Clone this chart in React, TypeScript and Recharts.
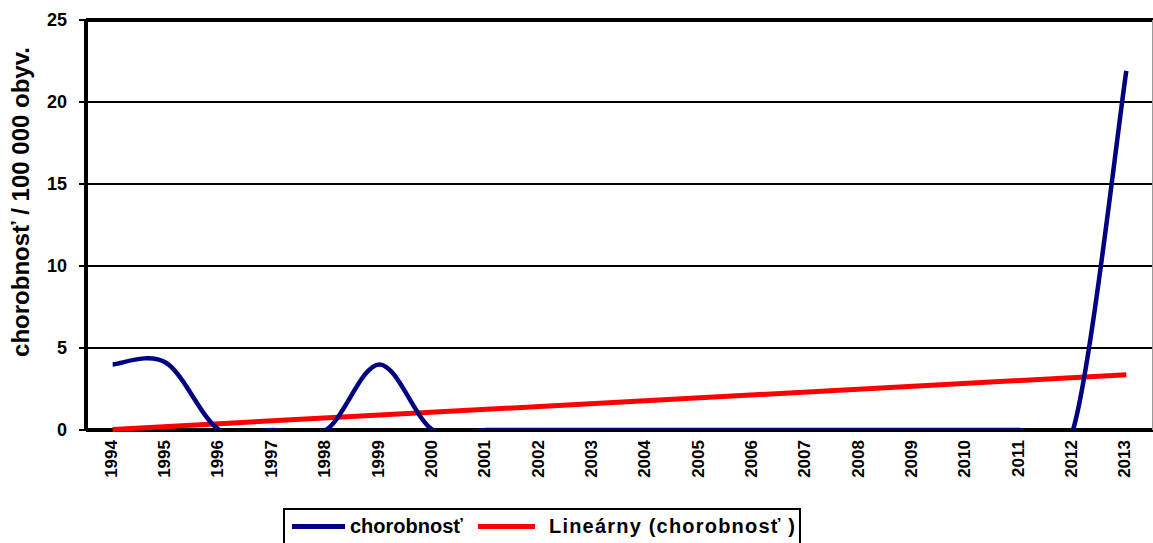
import React from "react";
import { CartesianGrid, Line, LineChart, ReferenceLine, XAxis, YAxis } from "recharts";

const years = [
  1994, 1995, 1996, 1997, 1998, 1999, 2000, 2001, 2002, 2003, 2004, 2005, 2006, 2007, 2008, 2009,
  2010, 2011, 2012, 2013,
];
const incidence = [4.0, 4.1, 0, 0, 0, 4.0, 0, 0, 0, 0, 0, 0, 0, 0, 0, 0, 0, 0, 0, 21.9];
const yTicks = [0, 5, 10, 15, 20, 25];
// linear trend (start / end value)
const trendStart = 0.03;
const trendEnd = 3.37;

const seriesName = "chorobnosť";
const trendName = "Lineárny (chorobnosť )";
const yTitle = "chorobnosť / 100 000 obyv.";

const data = years.map((year, i) => ({ year, value: incidence[i] }));
const bounds = [years[0] - 0.5, ...years.map((y) => y + 0.5)];

const FONT = "'Liberation Sans', Arial, sans-serif";

// Excel-style smoothed line (Catmull-Rom through every point)
const excelSmooth = (context: any) => {
  let pts: number[][] = [];
  return {
    areaStart() {},
    areaEnd() {},
    lineStart() {
      pts = [];
    },
    lineEnd() {
      const n = pts.length;
      if (!n) return;
      context.moveTo(pts[0][0], pts[0][1]);
      for (let i = 0; i < n - 1; i++) {
        const p0 = pts[Math.max(i - 1, 0)];
        const p1 = pts[i];
        const p2 = pts[i + 1];
        const p3 = pts[Math.min(i + 2, n - 1)];
        context.bezierCurveTo(
          p1[0] + (p2[0] - p0[0]) / 6,
          p1[1] + (p2[1] - p0[1]) / 6,
          p2[0] - (p3[0] - p1[0]) / 6,
          p2[1] - (p3[1] - p1[1]) / 6,
          p2[0],
          p2[1]
        );
      }
    },
    point(x: number, y: number) {
      pts.push([+x, +y]);
    },
  };
};

const YearTick = ({ x, y, payload }: any) => {
  const tx = x - 2;
  return (
    <text
      x={tx}
      y={y}
      transform={`rotate(-90 ${tx} ${y})`}
      textAnchor="end"
      dy="0.36em"
      fontFamily={FONT}
      fontWeight="bold"
      fontSize={17}
      fill="#000"
    >
      {payload.value}
    </text>
  );
};

const YTitle = ({ viewBox }: any) => {
  const x = viewBox.x + 20;
  const y = viewBox.y + 182;
  return (
    <text
      x={x}
      y={y}
      transform={`rotate(-90 ${x} ${y})`}
      textAnchor="middle"
      dy="0.36em"
      fontFamily={FONT}
      fontWeight="bold"
      fontSize={24}
      fill="#000"
    >
      {yTitle}
    </text>
  );
};

const LegendBox = () => {
  const text: React.CSSProperties = {
    position: "absolute",
    top: 5,
    fontFamily: FONT,
    fontWeight: "bold",
    fontSize: 20,
    color: "#000",
    whiteSpace: "nowrap",
  };
  const swatch: React.CSSProperties = { position: "absolute", top: 14, height: 5 };
  return (
    <div
      style={{
        position: "absolute",
        left: 283,
        top: 508,
        width: 518,
        height: 42,
        border: "2px solid #000",
        background: "#fff",
        boxSizing: "border-box",
      }}
    >
      <span style={{ ...swatch, left: 7, width: 53, background: "#000080" }} />
      <span style={{ ...text, left: 65 }}>{seriesName}</span>
      <span style={{ ...swatch, left: 193, width: 57, background: "#ff0000" }} />
      <span style={{ ...text, left: 264, letterSpacing: 1.2 }}>{trendName}</span>
    </div>
  );
};

export default function App() {
  return (
    <div
      style={{
        position: "absolute",
        left: 0,
        top: 0,
        width: 1153,
        height: 543,
        overflow: "hidden",
        background: "#fff",
      }}
    >
      <LineChart width={1153} height={543} data={data} margin={{ top: 20, right: 0, bottom: 30, left: 0 }}>
        <CartesianGrid horizontal vertical={false} stroke="#000" strokeWidth={2} />
        <XAxis
          xAxisId="b"
          dataKey="year"
          type="number"
          domain={[bounds[0], bounds[bounds.length - 1]]}
          ticks={years}
          allowDataOverflow
          axisLine={false}
          tickLine={false}
          tickSize={0}
          tickMargin={2}
          height={75}
          tick={<YearTick />}
        />
        <XAxis
          xAxisId="a"
          dataKey="year"
          type="number"
          domain={[bounds[0], bounds[bounds.length - 1]]}
          ticks={bounds}
          allowDataOverflow
          tick={false}
          tickSize={7}
          height={8}
          axisLine={false}
          tickLine={{ stroke: "#000", strokeWidth: 2 }}
        />
        <YAxis
          domain={[0, 25]}
          ticks={yTicks}
          allowDataOverflow
          width={86}
          tickSize={7}
          tickMargin={12}
          axisLine={{ stroke: "#000", strokeWidth: 4 }}
          tickLine={{ stroke: "#000", strokeWidth: 2 }}
          tick={{ fontFamily: FONT, fontWeight: "bold", fontSize: 18, fill: "#000" }}
          label={<YTitle />}
        />
        <ReferenceLine xAxisId="a" y={25} stroke="#000" strokeWidth={4} />
        <ReferenceLine xAxisId="a" y={0} stroke="#000" strokeWidth={4} />
        <ReferenceLine xAxisId="a" x={bounds[bounds.length - 1]} stroke="#9a9a9a" strokeWidth={2} />
        <ReferenceLine
          xAxisId="a"
          segment={[
            { x: years[0], y: trendStart },
            { x: years[years.length - 1], y: trendEnd },
          ]}
          stroke="#ff0000"
          strokeWidth={5}
        />
        <Line
          xAxisId="a"
          dataKey="value"
          name={seriesName}
          type={excelSmooth as any}
          stroke="#000080"
          strokeWidth={4.5}
          dot={false}
          activeDot={false}
          isAnimationActive={false}
        />
      </LineChart>
      <LegendBox />
    </div>
  );
}
